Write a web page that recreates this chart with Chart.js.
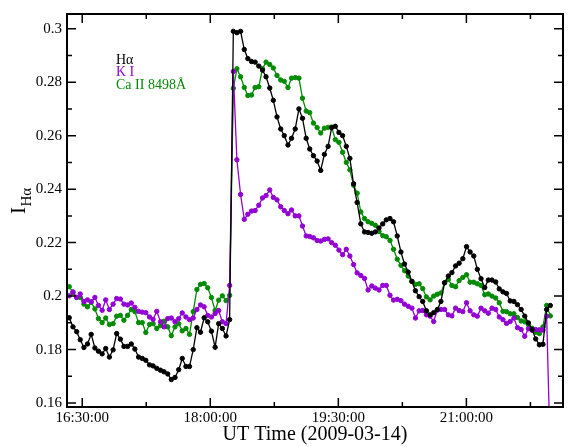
<!DOCTYPE html>
<html>
<head>
<meta charset="utf-8">
<script src="https://cdn.jsdelivr.net/npm/chart.js@4.4.0/dist/chart.umd.min.js"></script>
<style>
body { margin: 0; background: #fff; }
canvas { display: block; }
</style>
</head>
<body>
<canvas id="flare-curve" width="568" height="447"></canvas>
<script>
// time in minutes after 16:00 UT
const times = [
	20.9, 23.5, 26.1, 28.6, 31.2, 33.7, 36.3, 38.9, 41.4, 44.0,
	46.5, 49.1, 51.7, 54.2, 56.8, 59.3, 61.9, 64.5, 67.0, 69.6,
	72.2, 74.7, 77.3, 79.8, 82.4, 85.0, 87.5, 90.1, 92.6, 95.2,
	97.8, 100.3, 102.9, 105.4, 108.0, 110.6, 113.1, 115.7, 118.2, 120.8,
	123.4, 125.9, 128.5, 131.1, 133.6, 136.2, 138.7, 141.3, 143.9, 146.4,
	149.0, 151.5, 154.1, 156.7, 159.2, 161.8, 164.3, 166.9, 169.5, 172.0,
	174.6, 177.1, 179.7, 182.3, 184.8, 187.4, 189.9, 192.5, 195.1, 197.6,
	200.2, 202.8, 205.3, 207.9, 210.4, 213.0, 215.6, 218.1, 220.7, 223.2,
	225.8, 228.4, 230.9, 233.5, 236.0, 238.6, 241.2, 243.7, 246.3, 248.8,
	251.4, 254.0, 256.5, 259.1, 261.7, 264.2, 266.8, 269.3, 271.9, 274.5,
	277.0, 279.6, 282.1, 284.7, 287.3, 289.8, 292.4, 294.9, 297.5, 300.1,
	302.6, 305.2, 307.7, 310.3, 312.9, 315.4, 318.0, 320.6, 323.1, 325.7,
	328.2, 330.8, 333.4, 335.9, 338.5, 341.0, 343.6, 346.2, 348.7, 351.3,
	353.8, 356.4, 359.0
];

const halpha = [
	0.1919, 0.1885, 0.1867, 0.1837, 0.1808, 0.1821, 0.1857, 0.1806, 0.1794, 0.1784,
	0.1804, 0.1772, 0.1799, 0.1860, 0.1839, 0.1812, 0.1812, 0.1821, 0.1802, 0.1772,
	0.1767, 0.1760, 0.1743, 0.1739, 0.1730, 0.1723, 0.1717, 0.1709, 0.1688, 0.1696,
	0.1725, 0.1767, 0.1737, 0.1737, 0.1800, 0.1882, 0.1865, 0.1919, 0.1904, 0.1869,
	0.1809, 0.1897, 0.1879, 0.1851, 0.1912, 0.2990, 0.2985, 0.2990, 0.2922, 0.2888,
	0.2877, 0.2875, 0.2860, 0.2845, 0.2820, 0.2778, 0.2732, 0.2670, 0.2625, 0.2600,
	0.2565, 0.2590, 0.2625, 0.2700, 0.2665, 0.2590, 0.2550, 0.2525, 0.2505, 0.2470,
	0.2530, 0.2560, 0.2630, 0.2635, 0.2612, 0.2600, 0.2560, 0.2515, 0.2420, 0.2350,
	0.2270, 0.2240, 0.2238, 0.2235, 0.2240, 0.2255, 0.2270, 0.2285, 0.2290, 0.2278,
	0.2225, 0.2165, 0.2120, 0.2090, 0.2055, 0.2020, 0.1998, 0.1980, 0.1945, 0.1930,
	0.1938, 0.1950, 0.1980, 0.2050, 0.2075, 0.2088, 0.2113, 0.2123, 0.2140, 0.2185,
	0.2165, 0.2150, 0.2100, 0.2065, 0.2032, 0.2060, 0.2060, 0.2053, 0.2027, 0.2016,
	0.2010, 0.1982, 0.1980, 0.1968, 0.1950, 0.1925, 0.1900, 0.1875, 0.1840, 0.1818,
	0.1820, 0.1950, 0.1965
];

const kI = [
	0.2001, 0.2016, 0.1995, 0.2008, 0.1980, 0.1986, 0.1979, 0.1995, 0.1965, 0.1947,
	0.1986, 0.1950, 0.1970, 0.1991, 0.1989, 0.1970, 0.1967, 0.1974, 0.1958, 0.1943,
	0.1940, 0.1938, 0.1922, 0.1913, 0.1943, 0.1904, 0.1885, 0.1916, 0.1918, 0.1904,
	0.1916, 0.1937, 0.1922, 0.1912, 0.1918, 0.1950, 0.1967, 0.1960, 0.1928, 0.1922,
	0.1935, 0.1946, 0.1904, 0.1897, 0.2040, 0.2840, 0.2510, 0.2380, 0.2287, 0.2306,
	0.2318, 0.2320, 0.2340, 0.2367, 0.2376, 0.2397, 0.2369, 0.2360, 0.2334, 0.2320,
	0.2308, 0.2322, 0.2300, 0.2300, 0.2262, 0.2225, 0.2223, 0.2218, 0.2208, 0.2206,
	0.2212, 0.2214, 0.2200, 0.2190, 0.2172, 0.2155, 0.2175, 0.2150, 0.2118, 0.2087,
	0.2077, 0.2066, 0.2023, 0.2038, 0.2030, 0.2023, 0.2040, 0.2040, 0.2003, 0.1985,
	0.1988, 0.1983, 0.1970, 0.1962, 0.1955, 0.1918, 0.1945, 0.1946, 0.1930, 0.1925,
	0.1905, 0.1948, 0.1950, 0.1950, 0.1930, 0.1926, 0.1955, 0.1946, 0.1942, 0.1975,
	0.1945, 0.1930, 0.1925, 0.1955, 0.1945, 0.1936, 0.1955, 0.1950, 0.1922, 0.1912,
	0.1898, 0.1905, 0.1918, 0.1882, 0.1875, 0.1850, 0.1878, 0.1872, 0.1875, 0.1874,
	0.1873, 0.1925, 0.1400
];

const caII = [
	0.2035, 0.2013, 0.1995, 0.1995, 0.1970, 0.1960, 0.1977, 0.1952, 0.1916, 0.1901,
	0.1918, 0.1894, 0.1897, 0.1925, 0.1928, 0.1910, 0.1928, 0.1950, 0.1942, 0.1901,
	0.1901, 0.1864, 0.1894, 0.1897, 0.1879, 0.1890, 0.1906, 0.1885, 0.1852, 0.1885,
	0.1897, 0.1870, 0.1879, 0.1857, 0.1942, 0.2025, 0.2044, 0.2047, 0.2031, 0.1995,
	0.1946, 0.1985, 0.2001, 0.1983, 0.2003, 0.2777, 0.2850, 0.2820, 0.2780, 0.2750,
	0.2752, 0.2780, 0.2783, 0.2850, 0.2875, 0.2866, 0.2853, 0.2825, 0.2808, 0.2803,
	0.2780, 0.2815, 0.2817, 0.2815, 0.2740, 0.2692, 0.2686, 0.2647, 0.2630, 0.2610,
	0.2628, 0.2631, 0.2632, 0.2585, 0.2575, 0.2538, 0.2500, 0.2472, 0.2415, 0.2385,
	0.2315, 0.2290, 0.2278, 0.2272, 0.2265, 0.2242, 0.2226, 0.2222, 0.2208, 0.2175,
	0.2138, 0.2115, 0.2095, 0.2075, 0.2055, 0.2044, 0.2046, 0.2028, 0.1997, 0.1986,
	0.2000, 0.2007, 0.2012, 0.2050, 0.2062, 0.2040, 0.2035, 0.2058, 0.2070, 0.2080,
	0.2052, 0.2052, 0.2046, 0.2040, 0.2005, 0.2008, 0.2000, 0.1993, 0.1975, 0.1943,
	0.1942, 0.1934, 0.1934, 0.1920, 0.1907, 0.1904, 0.1893, 0.1880, 0.1865, 0.1860,
	0.1885, 0.1965, 0.1926
];

const xTicks = [30, 75, 120, 165, 210, 255, 300, 345];
const xMajor = [30, 120, 210, 300];
const yTicks = [0.16, 0.17, 0.18, 0.19, 0.20, 0.21, 0.22, 0.23, 0.24, 0.25, 0.26, 0.27, 0.28, 0.29, 0.30];

const serif = "'Liberation Serif', 'DejaVu Serif', serif";
Chart.defaults.color = "#000";
Chart.defaults.font.family = serif;

function pts(vals) {
	return times.map((t, i) => ({ x: t, y: vals[i] }));
}

function series(label, vals, color) {
	return {
		label: label,
		data: pts(vals),
		borderColor: color,
		backgroundColor: color,
		borderWidth: 1.3,
		pointRadius: 2.2,
		pointBorderWidth: 1,
		tension: 0
	};
}

function hhmm(v) {
	const h = 16 + Math.floor(v / 60);
	const m = Math.round(v % 60);
	return h + ":" + String(m).padStart(2, "0") + ":00";
}

// inward ticks on all sides, frame, legend text and the y title with subscript
const decorations = {
	id: "decorations",
	afterDatasetsDraw(chart) {
		const { ctx, chartArea: a, scales: { x, y } } = chart;
		ctx.save();
		ctx.strokeStyle = "#000";
		ctx.lineWidth = 1.5;
		ctx.beginPath();
		xTicks.forEach(v => {
			const px = x.getPixelForValue(v);
			const len = xMajor.includes(v) ? 9 : 5;
			ctx.moveTo(px, a.bottom); ctx.lineTo(px, a.bottom - len);
			ctx.moveTo(px, a.top); ctx.lineTo(px, a.top + len);
		});
		yTicks.forEach(v => {
			const py = y.getPixelForValue(v);
			const len = Math.round(v * 100) % 2 === 0 ? 9 : 5;
			ctx.moveTo(a.left, py); ctx.lineTo(a.left + len, py);
			ctx.moveTo(a.right, py); ctx.lineTo(a.right - len, py);
		});
		ctx.stroke();
		ctx.lineWidth = 2;
		ctx.strokeRect(a.left, a.top, a.right - a.left, a.bottom - a.top);

		ctx.font = "14px " + serif;
		ctx.textBaseline = "middle";
		ctx.textAlign = "left";
		chart.data.datasets.forEach((ds, i) => {
			ctx.fillStyle = ds.borderColor;
			ctx.fillText(ds.label, a.left + 49, a.top + 46 + i * 12.5);
		});

		ctx.fillStyle = "#000";
		ctx.translate(a.left - 42, a.top + 200);
		ctx.rotate(-Math.PI / 2);
		ctx.textBaseline = "alphabetic";
		ctx.font = "21px " + serif;
		ctx.fillText("I", 0, 0);
		const w = ctx.measureText("I").width;
		ctx.font = "15px " + serif;
		ctx.fillText("H\u03b1", w + 0.5, 6);
		ctx.restore();
	}
};

new Chart(document.getElementById("flare-curve"), {
	type: "line",
	data: {
		datasets: [
			series("H\u03b1", halpha, "#000000"),
			series("K I", kI, "#9400d3"),
			series("Ca II 8498\u00c5", caII, "#008b00")
		]
	},
	options: {
		responsive: false,
		animation: false,
		devicePixelRatio: 1,
		layout: { padding: { top: 5, right: 1, left: 0, bottom: 0 } },
		scales: {
			x: {
				type: "linear",
				min: 19.3,
				max: 367.9,
				afterFit: s => { s.height = 40; },
				afterBuildTicks: s => { s.ticks = xTicks.map(v => ({ value: v })); },
				grid: { display: false, drawTicks: false, tickLength: 0 },
				border: { display: false },
				ticks: {
					autoSkip: false,
					maxRotation: 0,
					padding: 2,
					font: { size: 15 },
					callback: v => xMajor.includes(v) ? hhmm(v) : ""
				},
				title: {
					display: true,
					text: "UT Time (2009-03-14)",
					font: { size: 20 },
					padding: { top: 0, bottom: 0 }
				}
			},
			y: {
				min: 0.15854,
				max: 0.30548,
				afterFit: s => { s.width = 67; },
				afterBuildTicks: s => { s.ticks = yTicks.map(v => ({ value: v })); },
				grid: { display: false, drawTicks: false, tickLength: 0 },
				border: { display: false },
				ticks: {
					padding: 5,
					font: { size: 15 },
					callback: v => Math.round(v * 100) % 2 === 0 ? String(Number(v.toFixed(2))) : ""
				}
			}
		},
		plugins: {
			legend: { display: false },
			tooltip: { enabled: false }
		}
	},
	plugins: [decorations]
});
</script>
</body>
</html>
